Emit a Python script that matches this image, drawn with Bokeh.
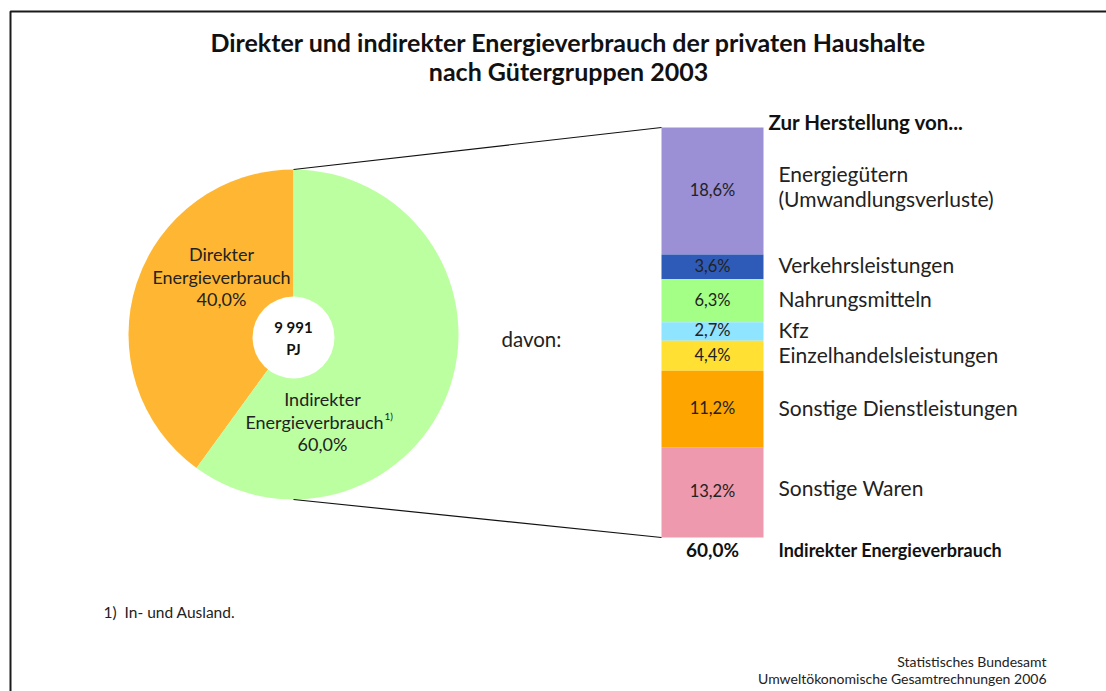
import numpy as np
from bokeh.plotting import figure
from bokeh.models import Range1d
from bokeh.core.properties import value
from bokeh.embed import file_html
from bokeh.resources import INLINE

# ---------------- data ----------------
title_lines = ["Direkter und indirekter Energieverbrauch der privaten Haushalte",
               "nach Gütergruppen 2003"]
pie_names = [["Direkter", "Energieverbrauch"], ["Indirekter", "Energieverbrauch"]]
pie_values = [40.0, 60.0]
pie_colors = ["#FFB733", "#BBFFA0"]
total_value = "9 991"
total_unit = "PJ"

bar_header = "Zur Herstellung von..."
bar_categories = [["Energiegütern", "(Umwandlungsverluste)"], ["Verkehrsleistungen"],
                  ["Nahrungsmitteln"], ["Kfz"], ["Einzelhandelsleistungen"],
                  ["Sonstige Dienstleistungen"], ["Sonstige Waren"]]
bar_values = [18.6, 3.6, 6.3, 2.7, 4.4, 11.2, 13.2]
bar_colors = ["#9B8FD6", "#2F5BB8", "#A3FF85", "#8FE4FF", "#FFE033", "#FFA500", "#EE99AE"]
bar_total_label = "Indirekter Energieverbrauch"
davon_label = "davon:"
footnote = "1)\u00a0 In- und Ausland."
source_lines = ["Statistisches Bundesamt", "Umweltökonomische Gesamtrechnungen 2006"]

FONT = value("Lato")

def pct(v):
    return f"{v:.1f}".replace(".", ",") + "%"

# ---------------- canvas (data units == screen pixels) ----------------
W, H = 1106, 691
def Y(sy):
    return H - sy

p = figure(width=W, height=H, output_backend="svg", toolbar_location=None,
           x_range=Range1d(0, W), y_range=Range1d(0, H),
           x_axis_type=None, y_axis_type=None, min_border=0)
p.grid.visible = False
p.outline_line_color = None
p.background_fill_color = "white"
p.border_fill_color = "white"

# frame
p.line(x=[10, 10, W], y=[Y(H), Y(11), Y(11)], line_color="#1a1a1a", line_width=2)

# title
p.text(x=[568, 568], y=[Y(41), Y(70)], text=title_lines, text_font=FONT,
       text_font_style="bold", text_font_size="25px", text_align="center",
       text_baseline="middle", text_color="#111111")

# ---------------- pie ----------------
cx, cy, R = 293, Y(334), 165
fr = np.array(pie_values) / sum(pie_values)
ends = np.pi / 2 + 2 * np.pi * np.cumsum(fr)
starts = np.concatenate([[np.pi / 2], ends[:-1]])
p.wedge(x=cx, y=cy, radius=R, start_angle=starts, end_angle=ends,
        direction="anticlock", fill_color=pie_colors, line_color=None)
p.scatter(x=[cx], y=[Y(337)], size=82, marker="circle", fill_color="white", line_color=None)
p.text(x=[cx, cx], y=[Y(326), Y(348)], text=[total_value, total_unit], text_font=FONT,
       text_font_style="bold", text_font_size="15px", text_align="center",
       text_baseline="middle", text_color="#111111")

# pie labels
pie_lx = [221, 322]
pie_ly = [Y(253.5), Y(398.5)]
for i, (names, v) in enumerate(zip(pie_names, pie_values)):
    lines = names + [pct(v)]
    xs = [pie_lx[i]] * 3
    if i == 1:
        xs[1] = pie_lx[i] - 8
    ys = [pie_ly[i] - 22.5 * k for k in range(3)]
    p.text(x=xs, y=ys, text=lines, text_font=FONT, text_font_size="18px",
           text_align="center", text_baseline="middle", text_color="#222222")
p.text(x=[384], y=[Y(415)], text=["1)"], text_font=FONT, text_font_size="10px",
       text_align="left", text_baseline="middle", text_color="#222222")

# ---------------- bar ----------------
bx0, bx1 = 661, 763
btop = Y(127)
scale = 410 / sum(bar_values)
cum = np.cumsum(bar_values)
tops = btop - scale * np.concatenate([[0], cum[:-1]])
bottoms = btop - scale * cum
mids = (tops + bottoms) / 2
p.quad(left=bx0, right=bx1, top=tops, bottom=bottoms, fill_color=bar_colors, line_color=None)
p.text(x=[(bx0 + bx1) / 2] * len(bar_values), y=mids + 1, text=[pct(v) for v in bar_values],
       text_font=FONT, text_font_size="16.5px", text_align="center",
       text_baseline="middle", text_color="#222222")

# label nudges (pixels, upward) so text sits as in the original layout
label_nudge = [5, 2, 2, 2, 1.5, 2, 5]
lab_x, lab_y, lab_t = [], [], []
for m, names, dn in zip(mids, bar_categories, label_nudge):
    n = len(names)
    for k, t in enumerate(names):
        lab_x.append(778)
        lab_y.append(m + dn + 12.5 * (n - 1) - 25 * k)
        lab_t.append(t)
p.text(x=lab_x, y=lab_y, text=lab_t, text_font=FONT, text_font_size="21px",
       text_align="left", text_baseline="middle", text_color="#222222")

p.text(x=[768], y=[Y(121)], text=[bar_header], text_font=FONT, text_font_style="bold",
       text_font_size="20.5px", text_align="left", text_baseline="middle", text_color="#111111")
p.text(x=[(bx0 + bx1) / 2], y=[Y(549)], text=[pct(sum(bar_values))], text_font=FONT,
       text_font_style="bold", text_font_size="19px", text_align="center",
       text_baseline="middle", text_color="#111111")
p.text(x=[778], y=[Y(549)], text=[bar_total_label], text_font=FONT, text_font_style="bold",
       text_font_size="18px", text_align="left", text_baseline="middle", text_color="#111111")

# connector lines
p.segment(x0=[cx, cx], y0=[cy + R, cy - R], x1=[bx0, bx0], y1=[btop, bottoms[-1]],
          line_color="#111111", line_width=1.2)

p.text(x=[501], y=[Y(338)], text=[davon_label], text_font=FONT, text_font_size="20.5px",
       text_align="left", text_baseline="middle", text_color="#222222")

# footnote and source
p.text(x=[103], y=[Y(611)], text=[footnote], text_font=FONT, text_font_size="15.5px",
       text_align="left", text_baseline="middle", text_color="#222222")
p.text(x=[1046, 1046], y=[Y(661), Y(678)], text=source_lines, text_font=FONT,
       text_font_size="14px", text_align="right", text_baseline="middle", text_color="#222222")

open("out.html", "w").write(file_html(p, INLINE))
